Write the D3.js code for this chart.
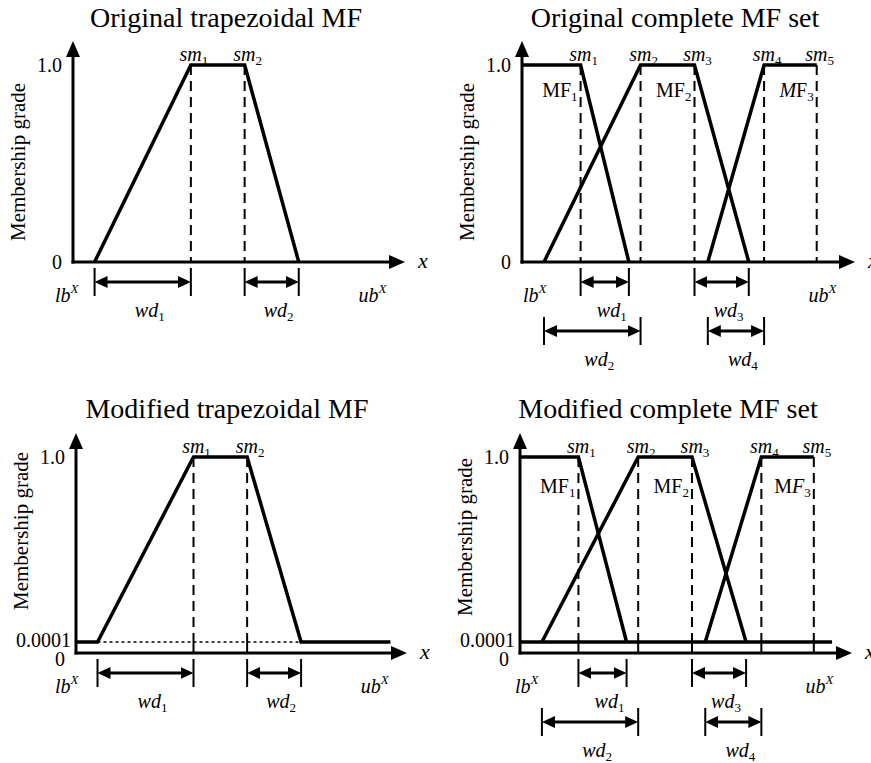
<!DOCTYPE html>
<html>
<head>
<meta charset="utf-8">
<script src="https://cdn.jsdelivr.net/npm/d3@7"></script>
<style>
  body { margin: 0; background: #fff; }
  svg { display: block; }
  text { font-family: "Liberation Serif", "Times New Roman", serif; fill: #000; }
</style>
</head>
<body>
<svg id="chart" width="871" height="763"></svg>
<script>
// x values are on an abstract 0-100 universe, y values are membership grades
const EPS = 0.0001;

// single trapezoidal MF (corner points)
const trapX = [6.5, 35.5, 51.7, 68];
const trapY = [0, 1, 1, 0];
const trapSm = [35.5, 51.7];
const trapTailEnd = 95;          // modified MF keeps 0.0001 out to here

// complete MF set
const setSm = [17.6, 35.6, 51.8, 72.7, 88.5];
const mf1X = [0, 17.6, 32.1];
const mf1Y = [1, 1, 0];
const mf2X = [6.6, 35.6, 51.8, 68.1];
const mf2Y = [0, 1, 1, 0];
const mf3X = [55.8, 72.7, 88.5];
const mf3Y = [0, 1, 1];
const setFloorEnd = 94;          // 0.0001 line in the modified set

// width annotations: [from, to]
const trapWd = [[trapX[0], trapSm[0]], [trapSm[1], trapX[3]]];
const setWd = [[setSm[0], mf1X[2]], [mf2X[0], setSm[1]], [setSm[2], mf2X[3]], [mf3X[0], setSm[3]]];

const yTicksOrig = [0, 1];
const yTicksMod = [0, EPS, 1];

const svg = d3.select("#chart");
const defs = svg.append("defs");

// arrow head for the axes
defs.append("marker")
    .attr("id", "axisHead")
    .attr("viewBox", "0 0 16 14")
    .attr("refX", 8).attr("refY", 7)
    .attr("markerWidth", 16).attr("markerHeight", 14)
    .attr("markerUnits", "userSpaceOnUse")
    .attr("orient", "auto")
    .append("path").attr("d", "M0,0L16,7L0,14Z").attr("fill", "#000");

// arrow head for the width dimension lines
defs.append("marker")
    .attr("id", "dimHead")
    .attr("viewBox", "0 0 13 12")
    .attr("refX", 7).attr("refY", 6)
    .attr("markerWidth", 13).attr("markerHeight", 12)
    .attr("markerUnits", "userSpaceOnUse")
    .attr("orient", "auto-start-reverse")
    .append("path").attr("d", "M0,0L13,6L0,12Z").attr("fill", "#000");

// text with an optional subscript / superscript
function richText(g, x, y, parts, anchor, size) {
    const t = g.append("text")
        .attr("x", x).attr("y", y)
        .attr("text-anchor", anchor || "middle")
        .attr("font-size", size || 20);
    parts.forEach(p => {
        const s = t.append("tspan").text(p.t);
        if (p.it) s.attr("font-style", "italic");
        if (p.sub) s.attr("font-size", 13).attr("dy", 4);
        if (p.sup) s.attr("font-size", 13).attr("dy", -9);
    });
    return t;
}

function drawPanel(cfg) {
    const g = svg.append("g");
    const x = d3.scaleLinear().domain([0, 100]).range([cfg.x0, cfg.xEnd]);
    const y = cfg.modified
        ? d3.scaleLinear().domain([0, EPS, 1]).range([cfg.y0, cfg.y0 - 11, cfg.y0 - 196])
        : d3.scaleLinear().domain([0, 1]).range([cfg.y0, cfg.y0 - 197]);
    const fy = v => cfg.modified ? Math.max(v, EPS) : v;
    const line = d3.line().x(d => x(d[0])).y(d => y(fy(d[1])));

    // title
    g.append("text")
        .attr("x", cfg.titleX).attr("y", cfg.y0 - 235)
        .attr("text-anchor", "middle")
        .attr("font-size", 28)
        .text(cfg.title);

    // y axis label
    g.append("text")
        .attr("transform", `translate(${cfg.x0 - 48},${cfg.labelY}) rotate(-90)`)
        .attr("text-anchor", "middle")
        .attr("font-size", 21)
        .text("Membership grade");

    // y tick labels through a d3 axis
    const yAxis = d3.axisLeft(y)
        .tickValues(cfg.modified ? yTicksMod : yTicksOrig)
        .tickSize(0).tickPadding(11)
        .tickFormat(d => d === 1 ? "1.0" : d === EPS ? "0.0001" : "0");
    const ax = g.append("g").attr("transform", `translate(${cfg.x0},0)`).call(yAxis);
    ax.select(".domain").remove();
    ax.selectAll("text")
        .attr("font-size", 20)
        .attr("fill", "#000");
    if (cfg.modified) {
        ax.selectAll(".tick").filter(d => d === EPS).select("text").attr("dx", 6).attr("dy", "0.2em");
        ax.selectAll(".tick").filter(d => d === 0).select("text").attr("dy", "0.62em");
    }

    // dashed guides at the shoulder points
    const sms = cfg.set ? setSm : trapSm;
    const bottom = cfg.modified ? EPS : 0;
    g.selectAll(".guide").data(sms).join("line")
        .attr("x1", d => x(d)).attr("x2", d => x(d))
        .attr("y1", y(1)).attr("y2", y(bottom))
        .attr("stroke", "#000").attr("stroke-width", 2)
        .attr("stroke-dasharray", "10,6");
    if (cfg.modified) {
        g.selectAll(".guideFoot").data(sms).join("line")
            .attr("x1", d => x(d)).attr("x2", d => x(d))
            .attr("y1", y(EPS)).attr("y2", y(0))
            .attr("stroke", "#000").attr("stroke-width", 2);
    }

    // MF curves
    const curves = [];
    if (cfg.set) {
        curves.push(d3.zip(mf1X, mf1Y), d3.zip(mf2X, mf2Y), d3.zip(mf3X, mf3Y));
        if (cfg.modified) curves.push([[0, EPS], [setFloorEnd, EPS]]);
    } else if (cfg.modified) {
        curves.push([[0, EPS]].concat(d3.zip(trapX, trapY), [[trapTailEnd, EPS]]));
    } else {
        curves.push(d3.zip(trapX, trapY));
    }
    g.selectAll(".mf").data(curves).join("path")
        .attr("d", line)
        .attr("fill", "none").attr("stroke", "#000")
        .attr("stroke-width", 3.5).attr("stroke-linejoin", "miter");

    if (cfg.modified && !cfg.set) {
        g.append("line")
            .attr("x1", x(trapX[0])).attr("x2", x(trapX[3]))
            .attr("y1", y(EPS)).attr("y2", y(EPS))
            .attr("stroke", "#000").attr("stroke-width", 1.5)
            .attr("stroke-dasharray", "3,3");
    }

    // axes with arrow heads
    g.append("line")
        .attr("x1", cfg.x0).attr("x2", cfg.x0)
        .attr("y1", y(0) + 1.5).attr("y2", y(1) - 24 + 8)
        .attr("stroke", "#000").attr("stroke-width", 3)
        .attr("marker-end", "url(#axisHead)");
    g.append("line")
        .attr("x1", cfg.x0 - 1.5).attr("x2", x(100) - 8)
        .attr("y1", y(0)).attr("y2", y(0))
        .attr("stroke", "#000").attr("stroke-width", 3)
        .attr("marker-end", "url(#axisHead)");
    richText(g, x(100) + 13, y(0) + 6, [{ t: "x", it: true }], "start", 22);

    // sm labels
    sms.forEach((d, i) => {
        richText(g, x(d) + 3, y(1) - 4, [{ t: "sm", it: true }, { t: String(i + 1), sub: true }]);
    });

    // MF labels
    if (cfg.set) {
        const mfRight = [setSm[0], setSm[2], setSm[4]];
        mfRight.forEach((d, i) => {
            const parts = i === 2
                ? (cfg.modified
                    ? [{ t: "M" }, { t: "F", it: true }, { t: "3", sub: true }]
                    : [{ t: "M", it: true }, { t: "F" }, { t: "3", sub: true }])
                : [{ t: "MF" }, { t: String(i + 1), sub: true }];
            richText(g, x(d) - 3, y(1) + cfg.mfDy, parts, "end");
        });
    }

    // lb / ub labels
    richText(g, cfg.x0 + cfg.lbDx, y(0) + 40, [{ t: "lb", it: true }, { t: "X", it: true, sup: true }], "start");
    richText(g, x(86), y(0) + 40, [{ t: "ub", it: true }, { t: "X", it: true, sup: true }], "start");

    // width dimension arrows
    const wds = cfg.set ? setWd : trapWd;
    wds.forEach((w, i) => {
        const row = cfg.set ? i % 2 : 0;
        const yy = y(0) + 20 + row * 49;
        [w[0], w[1]].forEach(v => {
            g.append("line")
                .attr("x1", x(v)).attr("x2", x(v))
                .attr("y1", yy - 14).attr("y2", yy + 14)
                .attr("stroke", "#000").attr("stroke-width", 2);
        });
        g.append("line")
            .attr("x1", x(w[0]) + 6).attr("x2", x(w[1]) - 6)
            .attr("y1", yy).attr("y2", yy)
            .attr("stroke", "#000").attr("stroke-width", 3)
            .attr("marker-start", "url(#dimHead)")
            .attr("marker-end", "url(#dimHead)");
        richText(g, (x(w[0]) + x(w[1])) / 2 + 7, yy + 35,
            [{ t: "wd", it: true }, { t: String(i + 1), sub: true }]);
    });
}

drawPanel({ title: "Original trapezoidal MF", titleX: 226, x0: 73, xEnd: 405, y0: 262, labelY: 162, lbDx: -18, set: false, modified: false });
drawPanel({ title: "Original complete MF set", titleX: 675, x0: 522, xEnd: 855, y0: 262, labelY: 162, lbDx: 1, set: true, modified: false, mfDy: 32 });
drawPanel({ title: "Modified trapezoidal MF", titleX: 227, x0: 76, xEnd: 407, y0: 653, labelY: 531, lbDx: -21, set: false, modified: true });
drawPanel({ title: "Modified complete MF set", titleX: 668, x0: 520, xEnd: 852, y0: 653, labelY: 537, lbDx: -5, set: true, modified: true, mfDy: 36 });
</script>
</body>
</html>
